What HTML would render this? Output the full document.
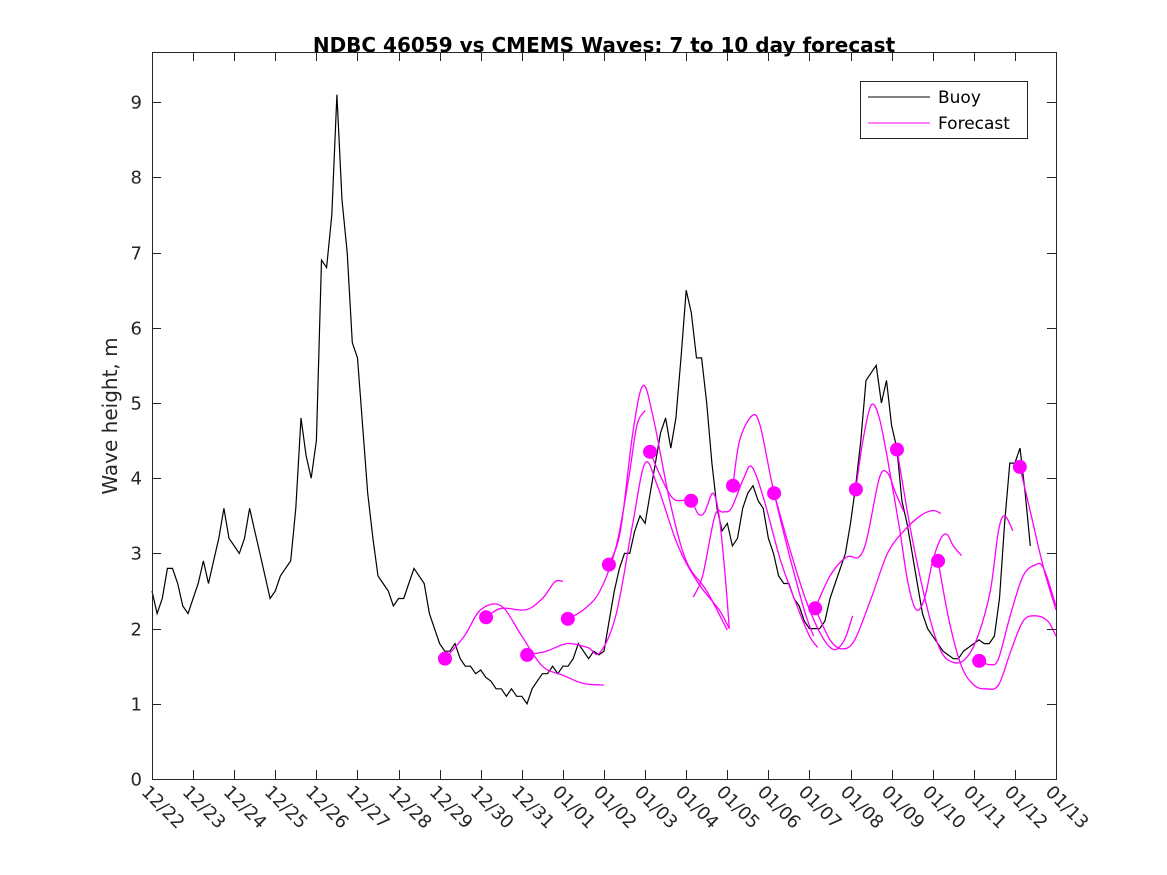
<!DOCTYPE html>
<html><head><meta charset="utf-8"><style>
body{margin:0;background:#fff;}
svg{display:block;font-family:"DejaVu Sans","Liberation Sans",sans-serif;}
</style></head><body>
<svg id="chart" width="1167" height="875" viewBox="0 0 1167 875">
<rect x="0" y="0" width="1167" height="875" fill="#fff"/>
<text x="604" y="52" text-anchor="middle" font-size="20" font-weight="bold">NDBC 46059 vs CMEMS Waves: 7 to 10 day forecast</text>
<text transform="translate(117,416) rotate(-90)" text-anchor="middle" font-size="20" fill="#262626">Wave height, m</text>
<g id="plot"></g>
<g id="axes"></g>
<g>
<rect x="860.5" y="81.5" width="167" height="57" fill="#fff" stroke="#262626" stroke-width="1"/>
<line x1="868" y1="97" x2="930" y2="97" stroke="#000" stroke-width="1"/>
<text x="938" y="103" font-size="17">Buoy</text>
<line x1="868" y1="123" x2="930" y2="123" stroke="#ff00ff" stroke-width="1"/>
<text x="938" y="129" font-size="17">Forecast</text>
</g>
</svg>
<script>
const xTickLabels = ["12/22","12/23","12/24","12/25","12/26","12/27","12/28","12/29","12/30","12/31","01/01","01/02","01/03","01/04","01/05","01/06","01/07","01/08","01/09","01/10","01/11","01/12","01/13"];
const yTicks = [0,1,2,3,4,5,6,7,8,9];
const buoyStepDays = 0.125;
const buoyValues = [2.5,2.2,2.4,2.8,2.8,2.6,2.3,2.2,2.4,2.6,2.9,2.6,2.9,3.2,3.6,3.2,3.1,3.0,3.2,3.6,3.3,3.0,2.7,2.4,2.5,2.7,2.8,2.9,3.6,4.8,4.3,4.0,4.5,6.9,6.8,7.5,9.1,7.7,7.0,5.8,5.6,4.7,3.8,3.2,2.7,2.6,2.5,2.3,2.4,2.4,2.6,2.8,2.7,2.6,2.2,2.0,1.8,1.7,1.7,1.8,1.6,1.5,1.5,1.4,1.45,1.35,1.3,1.2,1.2,1.1,1.2,1.1,1.1,1.0,1.2,1.3,1.4,1.4,1.5,1.4,1.5,1.5,1.6,1.8,1.7,1.6,1.7,1.65,1.7,2.1,2.5,2.8,3.0,3.0,3.3,3.5,3.4,3.8,4.2,4.6,4.8,4.4,4.8,5.6,6.5,6.2,5.6,5.6,5.0,4.2,3.6,3.3,3.4,3.1,3.2,3.6,3.8,3.9,3.7,3.6,3.2,3.0,2.7,2.6,2.6,2.4,2.3,2.1,2.0,2.0,2.0,2.1,2.4,2.6,2.8,3.0,3.4,3.9,4.5,5.3,5.4,5.5,5.0,5.3,4.7,4.4,3.7,3.4,3.0,2.6,2.2,2.0,1.9,1.8,1.7,1.65,1.6,1.6,1.7,1.75,1.8,1.85,1.8,1.8,1.9,2.4,3.4,4.2,4.2,4.4,3.8,3.1];
const markerDays = [7.13,8.13,9.13,10.12,11.12,12.12,13.12,14.14,15.14,16.14,17.13,18.13,19.13,20.13,21.12];
const markerValues = [1.6,2.15,1.65,2.13,2.85,4.35,3.7,3.9,3.8,2.27,3.85,4.38,2.9,1.57,4.15];
const fc1 = [[7.13,1.6],[7.6,1.9],[8.0,2.25],[8.5,2.3],[9.0,1.9],[9.5,1.5],[10.0,1.38],[10.5,1.27],[11.0,1.25]];
const fc2 = [[8.13,2.15],[8.5,2.27],[9.1,2.25],[9.5,2.4],[9.8,2.62],[10.0,2.63]];
const fc3 = [[9.13,1.65],[9.6,1.7],[10.1,1.8],[10.6,1.75],[10.9,1.68],[11.3,2.2],[11.7,3.4],[12.0,4.2],[12.3,3.9],[12.8,3.1],[13.3,2.6],[13.8,2.25],[14.05,2.0]];
const fc4 = [[10.12,2.13],[10.5,2.25],[10.9,2.5],[11.3,3.1],[11.6,4.0],[11.8,4.7],[12.0,4.9]];
const fc5 = [[11.12,2.85],[11.4,3.3],[11.7,4.6],[11.95,5.23],[12.2,4.8],[12.6,3.7],[13.0,2.9],[13.5,2.5],[14.0,1.98]];
const fc6 = [[12.12,4.35],[12.4,4.0],[12.7,3.72],[13.1,3.7],[13.3,3.52],[13.45,3.55],[13.65,3.8],[13.8,3.5],[13.95,2.7],[14.05,2.0]];
const fc7 = [[13.17,2.42],[13.4,2.7],[13.7,3.5],[13.9,3.55],[14.1,3.6],[14.4,4.0],[14.6,4.15],[14.9,3.7],[15.3,2.9],[15.7,2.3],[16.0,1.9],[16.2,1.75]];
const fc8 = [[14.14,3.9],[14.3,4.5],[14.6,4.83],[14.8,4.7],[15.1,3.9],[15.5,3.0],[15.9,2.2],[16.1,1.9]];
const fc9 = [[15.14,3.8],[15.5,3.1],[15.9,2.4],[16.3,1.9],[16.6,1.72],[16.85,1.85],[17.05,2.17]];
const fc10 = [[16.14,2.27],[16.5,2.7],[16.9,2.95],[17.2,2.95],[17.4,3.2],[17.7,4.0],[17.9,4.07],[18.1,3.8],[18.3,3.55]];
const fc11 = [[16.14,2.27],[16.5,1.85],[16.8,1.73],[17.1,1.85],[17.5,2.4],[17.9,3.0],[18.3,3.3],[18.7,3.5],[19.0,3.57],[19.2,3.53]];
const fc12 = [[17.13,3.86],[17.3,4.5],[17.5,4.97],[17.7,4.8],[17.95,4.1],[18.2,3.3],[18.4,2.6],[18.6,2.25],[18.8,2.4],[19.0,2.9],[19.2,3.2],[19.35,3.25],[19.5,3.1],[19.7,2.97]];
const fc13 = [[18.13,4.38],[18.5,3.2],[18.9,2.2],[19.2,1.7],[19.5,1.55],[19.8,1.6],[20.1,1.9],[20.4,2.5],[20.6,3.3],[20.75,3.5],[20.95,3.3]];
const fc14 = [[19.13,2.9],[19.4,2.1],[19.7,1.5],[20.0,1.25],[20.3,1.2],[20.6,1.25],[20.9,1.7],[21.2,2.1],[21.5,2.17],[21.8,2.1],[22.0,1.9]];
const fc15 = [[20.13,1.57],[20.4,1.52],[20.6,1.6],[20.9,2.2],[21.2,2.7],[21.5,2.85],[21.7,2.8],[22.0,2.3]];
const fc16 = [[21.12,4.15],[21.4,3.5],[21.7,2.8],[22.0,2.25]];
const forecasts = [fc1,fc2,fc3,fc4,fc5,fc6,fc7,fc8,fc9,fc10,fc11,fc12,fc13,fc14,fc15,fc16];

const X0=152, X1=1056, Y0=779, Y1=52, DAYS=22, YMAX=9.667;
function xs(d){return X0+(X1-X0)*d/DAYS;}
function ys(v){return Y0-(Y0-Y1)*v/YMAX;}
const NS="http://www.w3.org/2000/svg";
function mk(tag,attrs,parent){const e=document.createElementNS(NS,tag);for(const k in attrs)e.setAttribute(k,attrs[k]);parent.appendChild(e);return e;}
const plot=document.getElementById('plot'), axes=document.getElementById('axes');

let d='';
buoyValues.forEach((v,i)=>{const x=xs(i*buoyStepDays),y=ys(v);d+=(i?'L':'M')+x.toFixed(1)+','+y.toFixed(1);});
const bl=mk('path',{d:d,fill:'none',stroke:'#000','stroke-width':1.2},plot);



function smooth(pts){
  const p=pts.map(q=>[xs(q[0]),ys(q[1])]);
  let s='M'+p[0][0].toFixed(1)+','+p[0][1].toFixed(1);
  for(let i=0;i<p.length-1;i++){
    const a=p[Math.max(0,i-1)],b=p[i],c=p[i+1],e=p[Math.min(p.length-1,i+2)];
    const c1=[b[0]+(c[0]-a[0])/6,b[1]+(c[1]-a[1])/6],c2=[c[0]-(e[0]-b[0])/6,c[1]-(e[1]-b[1])/6];
    s+='C'+c1[0].toFixed(1)+','+c1[1].toFixed(1)+' '+c2[0].toFixed(1)+','+c2[1].toFixed(1)+' '+c[0].toFixed(1)+','+c[1].toFixed(1);
  }
  return s;
}
forecasts.forEach((f,i)=>{
  const p=mk('path',{d:smooth(f),fill:'none',stroke:'#ff00ff','stroke-width':1.3},plot);
  
  
});
markerDays.forEach((dd,i)=>{
  const c=mk('circle',{cx:xs(dd),cy:ys(markerValues[i]),r:7,fill:'#ff00ff'},plot);
  
  
});

const box=mk('rect',{x:X0+0.5,y:Y1+0.5,width:X1-X0,height:Y0-Y1,fill:'none',stroke:'#262626','stroke-width':1},axes);


yTicks.forEach(v=>{
  const y=Math.round(ys(v))+0.5;
  const t1=mk('line',{x1:X0,y1:y,x2:X0+9,y2:y,stroke:'#262626'},axes);
  
  
  const t2=mk('line',{x1:X1-9,y1:y,x2:X1,y2:y,stroke:'#262626'},axes);
  
  
  const tx=mk('text',{x:X0-10,y:y+6,'text-anchor':'end','font-size':18,fill:'#262626'},axes);
  tx.textContent=String(v);
  
  
});
xTickLabels.forEach((lab,i)=>{
  const x=Math.round(xs(i))+0.5;
  const t1=mk('line',{x1:x,y1:Y0,x2:x,y2:Y0-9,stroke:'#262626'},axes);
  
  
  const t2=mk('line',{x1:x,y1:Y1,x2:x,y2:Y1+9,stroke:'#262626'},axes);
  
  
  const tx=mk('text',{transform:'translate('+(x-12)+',793) rotate(45)','font-size':18,fill:'#262626'},axes);
  tx.textContent=lab;
  
  
});
</script>
</body></html>
